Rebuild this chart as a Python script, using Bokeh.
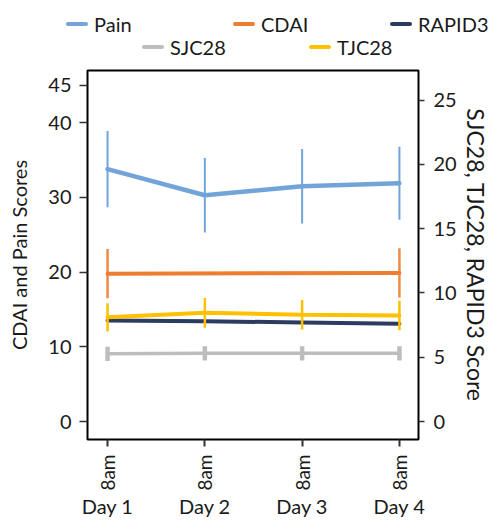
import math
from bokeh.plotting import figure
from bokeh.layouts import column
from bokeh.models import Range1d, LinearAxis, FixedTicker, Div
from bokeh.embed import file_html
from bokeh.resources import INLINE

# ---- data ----
days = ["Day 1", "Day 2", "Day 3", "Day 4"]
time_labels = ["8am", "8am", "8am", "8am"]

pain = [33.8, 30.3, 31.5, 31.9]
pain_err = [5.1, 5.0, 5.0, 4.9]
cdai = [19.8, None, None, 19.9]
cdai_err = [3.3, None, None, 3.3]
rapid3 = [7.85, 7.8, 7.7, 7.6]
sjc28 = [5.26, 5.3, 5.3, 5.3]
sjc28_err = [0.55, 0.55, 0.55, 0.55]
tjc28 = [8.1, 8.45, 8.3, 8.24]
tjc28_err = [1.1, 1.15, 1.15, 1.15]

left_ticks = [0, 10, 20, 30, 40, 45]
right_ticks = [0, 5, 10, 15, 20, 25]

series_names = ["Pain", "CDAI", "RAPID3", "SJC28", "TJC28"]

# ---- styling ----
FONT = "Lato"
TXT = "#1a1a1a"
COLORS = {"Pain": "#72A4D9", "CDAI": "#ED7D31", "RAPID3": "#2B3C60",
          "SJC28": "#BDBDBD", "TJC28": "#FFC000"}

x = list(range(len(days)))

# ---------------- main chart ----------------
p = figure(width=492, height=460, output_backend="svg", toolbar_location=None,
           x_range=Range1d(-0.206, 3.196), y_range=Range1d(-2.41, 47.0),
           x_axis_location=None, y_axis_location=None,
           min_border_left=87, min_border_right=74, min_border_top=8,
           min_border_bottom=83)
p.extra_y_ranges = {"right": Range1d(-1.40, 27.3)}
p.grid.visible = False
p.outline_line_color = "black"
p.outline_line_width = 2
p.background_fill_color = "white"
p.border_fill_color = "white"


def style_axis(ax, tick_out):
    ax.major_tick_out = tick_out
    ax.major_tick_in = 0
    ax.minor_tick_out = 0
    ax.minor_tick_in = 0
    ax.major_tick_line_width = 1.5
    ax.major_tick_line_color = "#333333"
    ax.axis_line_color = None
    ax.major_label_text_font = FONT
    ax.major_label_text_font_size = "20px"
    ax.major_label_text_color = TXT
    ax.axis_label_text_font = FONT
    ax.axis_label_text_font_size = "20px"
    ax.axis_label_text_font_style = "normal"
    ax.axis_label_text_color = TXT


yl = LinearAxis(ticker=FixedTicker(ticks=left_ticks), axis_label="CDAI and Pain Scores")
style_axis(yl, 8)
yl.major_label_standoff = 8
yl.axis_label_standoff = 14
p.add_layout(yl, "left")

yr = LinearAxis(y_range_name="right", ticker=FixedTicker(ticks=right_ticks),
                axis_label="SJC28, TJC28, RAPID3 Score")
style_axis(yr, 6)
yr.major_label_standoff = 9
yr.axis_label_standoff = 2
yr.axis_label_text_font_size = "23px"
p.add_layout(yr, "right")

xb1 = LinearAxis(ticker=FixedTicker(ticks=x),
                 major_label_overrides={i: t for i, t in zip(x, time_labels)})
style_axis(xb1, 7)
xb1.major_tick_line_width = 2
xb1.major_label_orientation = math.pi / 2
xb1.major_label_standoff = 8
xb1.major_label_text_font_size = "19px"
p.add_layout(xb1, "below")

xb2 = LinearAxis(ticker=FixedTicker(ticks=x),
                 major_label_overrides={i: d for i, d in zip(x, days)})
style_axis(xb2, 0)
xb2.major_tick_line_color = None
xb2.major_label_standoff = 0
p.add_layout(xb2, "below")


def errs(vals, errv):
    xs, lo, hi = [], [], []
    for i, (v, e) in enumerate(zip(vals, errv)):
        if v is None or e is None:
            continue
        xs.append(x[i]); lo.append(v - e); hi.append(v + e)
    return xs, lo, hi


def pts(vals):
    xs, ys = [], []
    for i, v in enumerate(vals):
        if v is not None:
            xs.append(x[i]); ys.append(v)
    return xs, ys


# Pain (left axis)
ex, lo, hi = errs(pain, pain_err)
p.segment(ex, lo, ex, hi, line_color=COLORS["Pain"], line_width=2)
p.line(*pts(pain), line_color=COLORS["Pain"], line_width=4.5,
       line_cap="round", line_join="round")

# CDAI (left axis)
ex, lo, hi = errs(cdai, cdai_err)
p.segment(ex, lo, ex, hi, line_color=COLORS["CDAI"], line_width=2.5, line_alpha=0.9)
p.line(*pts(cdai), line_color=COLORS["CDAI"], line_width=4, line_cap="round")

# SJC28 (right)
ex, lo, hi = errs(sjc28, sjc28_err)
p.segment(ex, lo, ex, hi, line_color=COLORS["SJC28"], line_width=4.5, y_range_name="right")
p.line(*pts(sjc28), line_color=COLORS["SJC28"], line_width=3.5, line_cap="round",
       y_range_name="right")

# RAPID3 (right)
p.line(*pts(rapid3), line_color=COLORS["RAPID3"], line_width=4,
       line_cap="round", y_range_name="right")

# TJC28 (right)
ex, lo, hi = errs(tjc28, tjc28_err)
p.segment(ex, lo, ex, hi, line_color=COLORS["TJC28"], line_width=2.5, y_range_name="right")
p.line(*pts(tjc28), line_color=COLORS["TJC28"], line_width=4,
       line_cap="round", y_range_name="right")

# ---------------- legend strip above (HTML) ----------------
# (left of swatch, vertical centre of the row) in pixels of the strip
anchors = {"Pain": (66, 24), "CDAI": (233, 24), "RAPID3": (390, 24),
           "SJC28": (142, 47), "TJC28": (309, 47)}
parts = []
for name in series_names:
    lx, cy = anchors[name]
    parts.append(
        f'<span style="position:absolute;left:{lx}px;top:{cy - 2}px;width:22px;height:4px;'
        f'border-radius:2px;background:{COLORS[name]};"></span>'
        f'<span style="position:absolute;left:{lx + 28}px;top:{cy - 12}px;height:24px;'
        f'line-height:24px;white-space:nowrap;">{name}</span>')
html = (f'<div style="position:relative;width:492px;height:62px;margin:0;padding:0;'
        f'font-family:{FONT};font-size:20px;color:{TXT};background:white;">'
        + "".join(parts) + "</div>")
legend_div = Div(text=html, width=492, height=62, margin=(0, 0, 0, 0))

layout = column(legend_div, p, spacing=0)
open("out.html", "w").write(file_html(layout, INLINE))
